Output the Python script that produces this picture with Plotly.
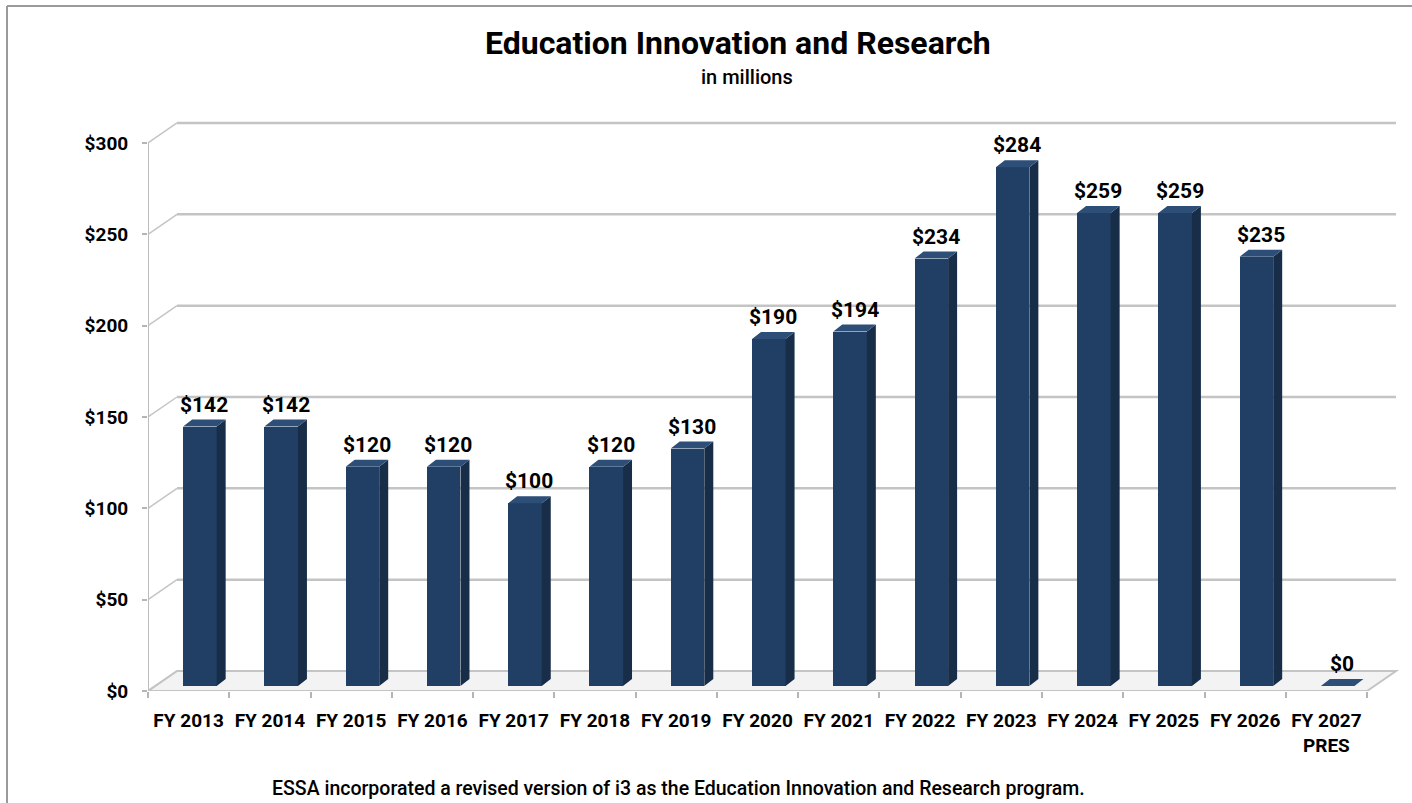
import plotly.graph_objects as go

# ---- data ----
categories = ["FY 2013", "FY 2014", "FY 2015", "FY 2016", "FY 2017", "FY 2018", "FY 2019",
              "FY 2020", "FY 2021", "FY 2022", "FY 2023", "FY 2024", "FY 2025", "FY 2026",
              "FY 2027<br>PRES"]
values = [142, 142, 120, 120, 100, 120, 130, 190, 194, 234, 284, 259, 259, 235, 0]
y_ticks = [0, 50, 100, 150, 200, 250, 300]
y_tick_labels = ["$0", "$50", "$100", "$150", "$200", "$250", "$300"]

# ---- geometry (3D look) ----
W, H = 1412, 803
ML, MR, MT, MB = 148, 7, 110, 112
PX_PER_CAT = 81.27
PX_PER_USD = 1.8267
plot_w = W - ML - MR
plot_h = H - MT - MB
x_range = [-0.5, -0.5 + plot_w / PX_PER_CAT]
y_range = [0, plot_h / PX_PER_USD]

DX = 29 / PX_PER_CAT        # full depth offset (back wall)
DY = 20 / PX_PER_USD
BAR_L, BAR_R = -0.068, 0.345  # bar front face relative to category
BAR_BASE = 5 / PX_PER_USD
SDX = 9 / PX_PER_CAT          # bar depth
SDY = 7 / PX_PER_USD
n = len(categories)

FRONT = "#213f64"
SIDE = "#172d48"
TOP = "#2d4e77"
GRID = "#c4c4c4"
FONT = "Roboto"

fig = go.Figure()

# front faces as real bars
fig.add_trace(go.Bar(
    x=[i + (BAR_L + BAR_R) / 2 for i in range(n)],
    y=values,
    base=[BAR_BASE] * n,
    width=BAR_R - BAR_L,
    marker=dict(color=FRONT, line=dict(width=0)),
    hoverinfo="skip",
    showlegend=False,
))

# side and top faces
sx, sy, tx, ty = [], [], [], []
for i, v in enumerate(values):
    xr = i + BAR_R
    xl = i + BAR_L
    top = BAR_BASE + v
    if v > 0:
        sx += [xr, xr + SDX, xr + SDX, xr, xr, None]
        sy += [BAR_BASE, BAR_BASE + SDY, top + SDY, top, BAR_BASE, None]
    tx += [xl, xr, xr + SDX, xl + SDX, xl, None]
    ty += [top, top, top + SDY, top + SDY, top, None]
fig.add_trace(go.Scatter(x=sx, y=sy, fill="toself", fillcolor=SIDE, mode="lines",
                         line=dict(width=0, color=SIDE), hoverinfo="skip", showlegend=False))
fig.add_trace(go.Scatter(x=tx, y=ty, fill="toself", fillcolor=TOP, mode="lines",
                         line=dict(width=0, color=TOP), hoverinfo="skip", showlegend=False))

shapes = []
x0, x1 = -0.5, n - 0.5
# floor
shapes.append(dict(type="path", xref="x", yref="y", layer="below",
                   path=f"M {x0},0 L {x1},0 L {x1 + DX},{DY} L {x0 + DX},{DY} Z",
                   fillcolor="#f3f3f3", line=dict(color=GRID, width=2)))
# back wall gridlines & left wall diagonals
for k in y_ticks:
    if k > 0:
        shapes.append(dict(type="line", xref="x", yref="y", layer="below",
                           x0=x0 + DX, x1=x1 + DX, y0=k + DY, y1=k + DY,
                           line=dict(color=GRID, width=2.5)))
    shapes.append(dict(type="line", xref="x", yref="y", layer="below",
                       x0=x0, x1=x0 + DX, y0=k, y1=k + DY,
                       line=dict(color=GRID, width=1.5)))
# left axis line
shapes.append(dict(type="line", xref="x", yref="y", layer="below",
                   x0=x0, x1=x0, y0=0, y1=y_ticks[-1],
                   line=dict(color="#bdbdbd", width=2)))


# frame lines (paper coords)
def px_to_paper_x(px):
    return (px - ML) / plot_w


def px_to_paper_y(py):
    return (H - MB - py) / plot_h


shapes.append(dict(type="line", xref="paper", yref="paper",
                   x0=px_to_paper_x(7), x1=px_to_paper_x(W), y0=px_to_paper_y(6), y1=px_to_paper_y(6),
                   line=dict(color="#9a9a9a", width=2)))
shapes.append(dict(type="line", xref="paper", yref="paper",
                   x0=px_to_paper_x(7), x1=px_to_paper_x(7), y0=px_to_paper_y(6), y1=px_to_paper_y(H),
                   line=dict(color="#9a9a9a", width=2)))

annotations = []
for i, v in enumerate(values):
    annotations.append(dict(x=i + (BAR_L + BAR_R) / 2 + SDX / 2, y=BAR_BASE + v + SDY,
                            xref="x", yref="y", text=f"${v}", showarrow=False,
                            yanchor="bottom", yshift=1,
                            font=dict(family=FONT, size=21, color="black", weight="bold")))
annotations.append(dict(x=px_to_paper_x(738), y=px_to_paper_y(43), xref="paper", yref="paper",
                        text="Education Innovation and Research", showarrow=False,
                        xanchor="center", yanchor="middle",
                        font=dict(family=FONT, size=32, color="black", weight="bold")))
annotations.append(dict(x=px_to_paper_x(747), y=px_to_paper_y(77), xref="paper", yref="paper",
                        text="in millions", showarrow=False, xanchor="center", yanchor="middle",
                        font=dict(family=FONT, size=20, color="black", weight=500)))
annotations.append(dict(x=px_to_paper_x(678), y=px_to_paper_y(789), xref="paper", yref="paper",
                        text="ESSA incorporated a revised version of i3 as the Education Innovation and Research program.",
                        showarrow=False, xanchor="center", yanchor="middle",
                        font=dict(family=FONT, size=19.5, color="black", weight=500)))

fig.update_layout(
    width=W, height=H,
    margin=dict(l=ML, r=MR, t=MT, b=MB),
    paper_bgcolor="white", plot_bgcolor="white",
    shapes=shapes, annotations=annotations,
    showlegend=False,
    xaxis=dict(range=x_range, tickmode="array", tickvals=list(range(n)), ticktext=categories,
               ticks="", showgrid=False, zeroline=False, showline=False,
               ticklabelstandoff=16,
               tickfont=dict(family=FONT, size=19, color="black", weight="bold"),
               minor=dict(ticks="outside", tick0=-0.5, dtick=1, ticklen=6, tickcolor="#b5b5b5",
                          tickwidth=1.5, showgrid=False),
               fixedrange=True),
    yaxis=dict(range=y_range, tickmode="array", tickvals=y_ticks, ticktext=y_tick_labels,
               ticks="outside", ticklen=5, tickcolor="#b5b5b5", tickwidth=1.5,
               ticklabelstandoff=10,
               showgrid=False, zeroline=False, showline=False,
               tickfont=dict(family=FONT, size=19, color="black", weight="bold"),
               fixedrange=True),
    bargap=0,
)

fig.write_html("out.html")
